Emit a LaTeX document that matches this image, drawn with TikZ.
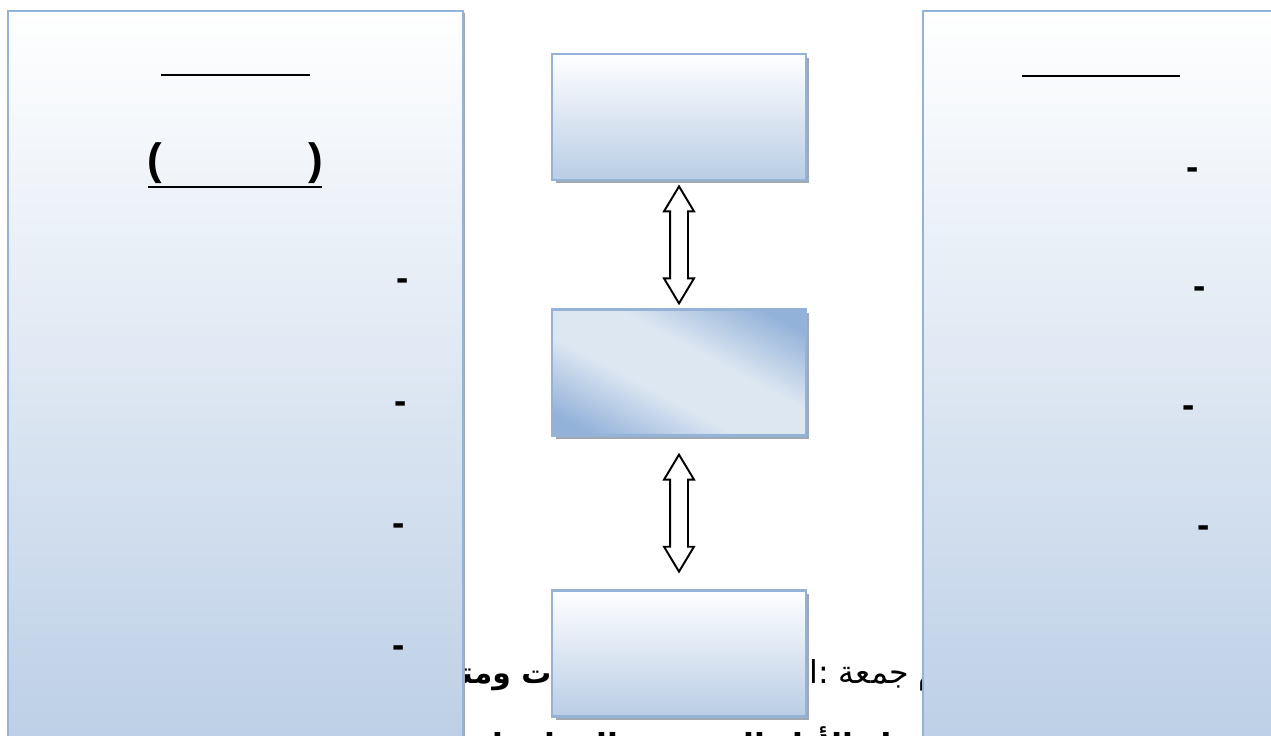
\documentclass[tikz,border=0pt]{standalone}
\usepackage{fontspec}
\setmainfont{Liberation Sans}
\newfontfamily\arabicfont[Script=Arabic]{DejaVu Sans}
\TeXXeTstate=1
\usetikzlibrary{positioning,shadows,shapes.arrows,calc}

\definecolor{edgeblue}{HTML}{95B3D7}
\definecolor{fillblue}{HTML}{B9CDE5}
\definecolor{deepblue}{HTML}{93B2D9}
\definecolor{paleblue}{HTML}{DDE7F2}
\definecolor{shadowgrey}{HTML}{A0A8B4}

% light band running across the middle box
\pgfdeclarehorizontalshading{glass}{100bp}{color(0bp)=(deepblue); color(22bp)=(deepblue);
  color(42bp)=(paleblue); color(58bp)=(paleblue); color(78bp)=(deepblue); color(100bp)=(deepblue)}

\begin{document}
\begin{tikzpicture}[x=0.02cm,y=-0.02cm,
  panel/.style={draw=edgeblue,line width=1.4pt,top color=white,bottom color=fillblue,
    drop shadow={shadow xshift=0.05cm,shadow yshift=-0.05cm,fill=shadowgrey,opacity=1},
    minimum height=15.4cm,anchor=north west,inner sep=0,outer sep=0},
  stage/.style={draw=edgeblue,line width=1.6pt,minimum width=5.08cm,minimum height=2.52cm,
    drop shadow={shadow xshift=0.07cm,shadow yshift=-0.07cm,fill=shadowgrey,opacity=1}},
  fade/.style={top color=white,middle color=fillblue!25!white,bottom color=fillblue},
  linkarrow/.style={double arrow,draw,line width=1.1pt,fill=white,rotate=90,inner sep=0.16cm,
    minimum height=2.34cm,double arrow head extend=0.12cm,double arrow tip angle=62},
  dashmark/.style={font=\fontsize{21}{24}\selectfont\bfseries,inner sep=0},
  underrule/.style={line width=1.2pt},
  arabic/.style={font=\arabicfont\fontsize{18}{22}\selectfont,inner sep=0}]

\useasboundingbox (0,0) rectangle (1271,736);

% body text, partly hidden by the panels and boxes
\node[arabic,anchor=base west] (textA) at (809,683) {\beginR يوم جمعة :ا\endR};
\node[arabic,anchor=base east,font=\arabicfont\fontsize{17}{22}\selectfont\bfseries]
      (textB) at (562,683) {\beginR ات ومتطلبات\endR};
\node[arabic,anchor=base east,font=\arabicfont\fontsize{18}{22}\selectfont\bfseries]
      (textC) at (935,756) {\beginR حول الأداء التربوي والمعلومات والمهارات\endR};

% side panels
\node[panel,minimum width=9.1cm] (leftpanel) at (8,11) {};
\node[panel,minimum width=8.2cm] (rightpanel) at (923,11) {};

% left panel
\draw[underrule] (161,75) -- (310,75);
\node[dashmark,font=\fontsize{25}{28}\selectfont\bfseries] (lparen) at (155,163) {(};
\node[dashmark,font=\fontsize{25}{28}\selectfont\bfseries] (rparen) at (316,163) {)};
\draw[underrule] (148,187) -- (322,187);
\foreach \i/\x/\y in {1/403/285,2/401/408,3/399/530,4/399/652}
  \node[dashmark] (ldash\i) at (\x,\y) {-};

% right panel
\draw[underrule] (1022,76) -- (1180,76);
\foreach \i/\x/\y in {1/1193/174,2/1200/293,3/1189/412,4/1204/532}
  \node[dashmark] (rdash\i) at (\x,\y) {-};

% middle column
\node[stage,fade] (upper) at (679,117) {};
\node[stage,shading=glass,shading angle=62,below=2.54cm of upper] (core) {};
\node[stage,fade,below=3.04cm of core] (lower) {};

\node[linkarrow] (link1) at ($(upper.south)!0.5!(core.north)$) {};
\node[linkarrow] (link2) at ($(core.south)!0.5!(lower.north)$) {};

\end{tikzpicture}
\end{document}
